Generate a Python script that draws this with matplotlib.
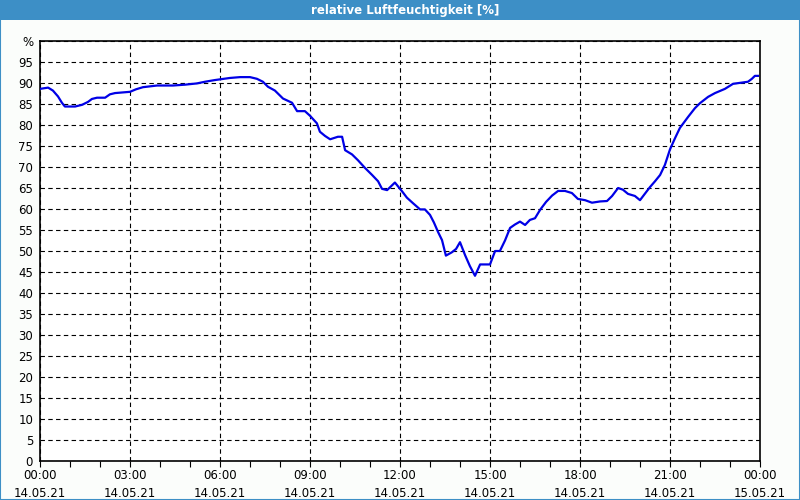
import matplotlib
matplotlib.use("Agg")
import matplotlib.pyplot as plt
from matplotlib.patches import Rectangle

# stunden seit 14.05.21 00:00 / rel. feuchte in %
hours = [0.0, 0.27, 0.43, 0.6, 0.73, 0.83, 1.17, 1.4, 1.6, 1.73, 1.9, 2.17, 2.33, 2.5,
         3.0, 3.2, 3.43, 3.9, 4.43, 4.83, 5.23, 5.5, 5.83, 6.33, 6.67, 7.0, 7.23, 7.43,
         7.6, 7.83, 8.1, 8.4, 8.57, 8.83, 9.0, 9.23, 9.33, 9.5, 9.67, 9.93, 10.07, 10.17,
         10.4, 10.6, 10.83, 11.07, 11.27, 11.4, 11.57, 11.83, 12.07, 12.23, 12.43, 12.67,
         12.83, 13.0, 13.13, 13.27, 13.4, 13.53, 13.73, 13.87, 14.0, 14.17, 14.33, 14.5,
         14.67, 15.0, 15.17, 15.33, 15.5, 15.67, 15.83, 16.0, 16.17, 16.33, 16.5, 16.67,
         16.87, 17.07, 17.27, 17.5, 17.73, 17.93, 18.17, 18.4, 18.67, 18.9, 19.07, 19.27,
         19.43, 19.6, 19.83, 20.0, 20.17, 20.33, 20.5, 20.67, 20.83, 21.0, 21.17, 21.33,
         21.6, 21.83, 22.0, 22.27, 22.5, 22.83, 23.1, 23.4, 23.6, 23.73, 23.83, 23.93]
humidity = [88.6, 88.9, 88.2, 86.8, 85.3, 84.4, 84.4, 84.8, 85.5, 86.2, 86.5, 86.5, 87.3, 87.6,
            87.9, 88.5, 89.0, 89.4, 89.4, 89.6, 89.9, 90.3, 90.7, 91.2, 91.4, 91.4, 91.0, 90.3,
            89.1, 88.2, 86.3, 85.3, 83.3, 83.3, 82.2, 80.4, 78.4, 77.4, 76.6, 77.2, 77.2, 74.0,
            73.0, 71.6, 69.8, 68.1, 66.6, 64.8, 64.5, 66.3, 64.2, 62.7, 61.4, 59.9,
            59.9, 58.6, 56.8, 54.5, 52.6, 48.9, 49.7, 50.5, 52.1, 49.0, 46.4, 44.1,
            46.8, 46.8, 50.0, 50.0, 52.5, 55.5, 56.3, 57.0, 56.2, 57.4, 57.8, 59.8,
            61.7, 63.2, 64.3, 64.3, 63.8, 62.4, 62.1, 61.5, 61.8, 61.9, 63.1, 65.0,
            64.6, 63.6, 63.1, 62.1, 63.7, 65.2, 66.6, 68.1, 70.5, 74.2, 76.9, 79.3,
            81.9, 84.0, 85.2, 86.7, 87.6, 88.6, 89.8, 90.1, 90.3, 91.0, 91.7, 91.7]

x_ticks = [0, 3, 6, 9, 12, 15, 18, 21, 24]
x_labels = ["00:00\n14.05.21", "03:00\n14.05.21", "06:00\n14.05.21", "09:00\n14.05.21",
            "12:00\n14.05.21", "15:00\n14.05.21", "18:00\n14.05.21", "21:00\n14.05.21",
            "00:00\n15.05.21"]
y_ticks = list(range(0, 101, 5))
y_labels = [str(v) for v in range(0, 100, 5)] + ["%"]

blue_bar = "#3d8fc6"

fig = plt.figure(figsize=(8, 5), dpi=100, facecolor="#fbfdfb")
ax = fig.add_axes([0.05, 0.078, 0.90, 0.840])
ax.set_facecolor("white")

# titelleiste + rahmen
fig.patches.append(Rectangle((0, 0.96), 1, 0.04, transform=fig.transFigure,
                             facecolor=blue_bar, edgecolor="none", zorder=0))
fig.patches.append(Rectangle((0.0006, 0.001), 0.9988, 0.998, transform=fig.transFigure,
                             facecolor="none", edgecolor=blue_bar, linewidth=1.5, zorder=5))
fig.text(0.506, 0.979, "relative Luftfeuchtigkeit [%]", color="white", fontsize=8.5,
         fontweight="bold", ha="center", va="center")

ax.plot(hours, humidity, color="#0000e6", linewidth=1.6, zorder=3)

ax.set_xlim(0, 24)
ax.set_ylim(0, 100)
ax.set_xticks(x_ticks)
ax.set_xticklabels(x_labels, fontsize=8.5, linespacing=1.45)
ax.set_xticks(range(0, 25), minor=True)
ax.set_yticks(y_ticks)
ax.set_yticklabels(y_labels, fontsize=8.5)

ax.tick_params(axis="x", which="both", length=4, width=0.8, direction="out", pad=2)
ax.tick_params(axis="y", length=0, pad=5)

ax.grid(True, which="major", color="black", linestyle=(0, (4, 3)), linewidth=0.8)
ax.set_axisbelow(True)
for s in ax.spines.values():
    s.set_linewidth(1.2)
    s.set_color("black")

fig.savefig("out.png", dpi=100, facecolor=fig.get_facecolor())
